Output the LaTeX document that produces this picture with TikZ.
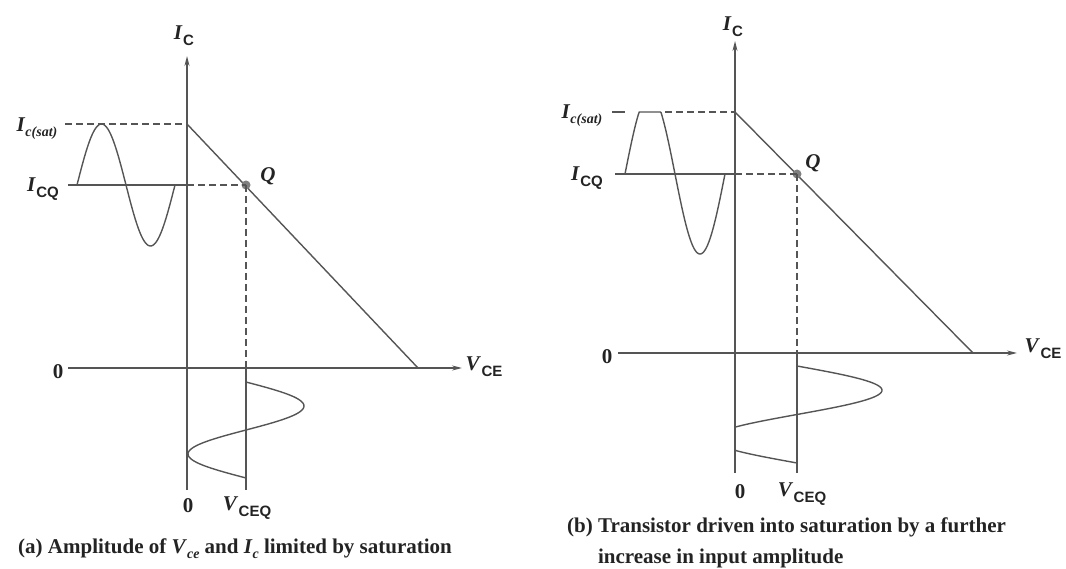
\documentclass[tikz,border=0pt]{standalone}
\usepackage{fontspec}
\setmainfont{Liberation Serif}
\newfontfamily\subsans{Liberation Sans}
\usetikzlibrary{arrows.meta,calc}
\definecolor{linegray}{RGB}{85,85,85}
\definecolor{inkgray}{RGB}{35,35,35}
\tikzset{
  curve/.style={draw=linegray, line width=1.4pt},
  axis/.style={curve, -{Stealth[length=10pt,width=5pt]}},
  guide/.style={curve, dash pattern=on 7pt off 4pt},
  lbl/.style={inner sep=0pt, text=inkgray, font=\fontsize{21}{23}\selectfont\bfseries},
  captxt/.style={inner sep=0pt, anchor=base west, text=inkgray, font=\fontsize{21}{23}\selectfont\bfseries},
  qdot/.style={circle, fill=gray, inner sep=0pt, minimum size=9pt},
}
\newcommand\axsub[2]{\textit{#1}\kern0.5pt\raisebox{-6pt}{\fontsize{15}{15}\selectfont\subsans\bfseries #2}}
\newcommand\itsub[2]{\textit{#1}\raisebox{-5pt}{\fontsize{14}{14}\selectfont\itshape #2}}
\begin{document}
\begin{tikzpicture}[x=1pt,y=-1pt]
\useasboundingbox (0,0) rectangle (1066,569);
% ---------------- panel (a) ----------------
\coordinate (aTop) at (187,56);
\coordinate (aBot) at (187,490);
\coordinate (aL) at (68,368);
\coordinate (aR) at (462,368);
\coordinate (aSat) at (187,124);
\coordinate (aSatL) at (65,124);
\coordinate (aEnd) at (418,368);
\coordinate (aCQL) at (68,185);
\coordinate (aCQ0) at (187,185);
\coordinate (aQax) at (246,368);
\coordinate (aQbot) at (246,490);
\draw[axis] (aBot) -- (aTop);
\draw[axis] (aL) -- (aR);
\draw[guide] (aSatL) -- (aSat);
\draw[curve] (aSat) -- (aEnd);
\draw[curve] (aCQL) -- (aCQ0);
\node[qdot] (aQ) at (246,185) {};
\draw[guide] (aCQ0) -- (aQ.center);
\draw[guide] (aQ.center) -- (aQax);
\draw[curve] (aQax) -- (aQbot);
\draw[curve] plot[domain=0:360,samples=80] ({77+\x/360*98},{185-61*sin(\x)});
\draw[curve] plot[domain=0:360,samples=80] ({246+58*sin(\x)},{382+\x/360*96});
\node[lbl] (aIC) at (184,36) {\axsub{I}{C}};
\node[lbl] (aIsat) at (37,129) {\itsub{I}{c(sat)}};
\node[lbl] (aICQ) at (43,189) {\axsub{I}{CQ}};
\node[lbl] (aQl) at (268,176) {\textit{Q}};
\node[lbl] (aZ) at (58,372) {0};
\node[lbl] (aVCE) at (484,367) {\axsub{V}{CE}};
\node[lbl] (aZb) at (188,506) {0};
\node[lbl] (aVCEQ) at (247,508) {\axsub{V}{CEQ}};
\node[captxt] (aCap) at (18,553) {(a) Amplitude of \itsub{V}{ce} and \itsub{I}{c} limited by saturation};
% ---------------- panel (b) ----------------
\coordinate (bTop) at (735,41);
\coordinate (bBot) at (735,473);
\coordinate (bL) at (618,353);
\coordinate (bR) at (1017,353);
\coordinate (bSat) at (735,112);
\coordinate (bSatL) at (665,112);
\coordinate (bEnd) at (973,353);
\coordinate (bCQL) at (615,174);
\coordinate (bCQ0) at (735,174);
\coordinate (bQax) at (797,353);
\coordinate (bQbot) at (797,473);
\coordinate (bTickL) at (612,112);
\coordinate (bTickR) at (625,112);
\draw[axis] (bBot) -- (bTop);
\draw[axis] (bL) -- (bR);
\draw[guide] (bSatL) -- (bSat);
\draw[curve] (bTickL) -- (bTickR);
\draw[curve] (bSat) -- (bEnd);
\draw[curve] (bCQL) -- (bCQ0);
\node[qdot] (bQ) at (797,174) {};
\draw[guide] (bCQ0) -- (bQ.center);
\draw[guide] (bQ.center) -- (bQax);
\draw[curve] (bQax) -- (bQbot);
\draw[curve] plot[domain=0:360,samples=120] ({625+\x/360*100},{174-min(80*sin(\x),62)});
\draw[curve] plot[domain=0:360,samples=120] ({max(797+85*sin(\x),735)},{366+\x/360*97});
\node[lbl] (bIC) at (733,27) {\axsub{I}{C}};
\node[lbl] (bIsat) at (582,116) {\itsub{I}{c(sat)}};
\node[lbl] (bICQ) at (587,178) {\axsub{I}{CQ}};
\node[lbl] (bQl) at (813,163) {\textit{Q}};
\node[lbl] (bZ) at (607,357) {0};
\node[lbl] (bVCE) at (1043,349) {\axsub{V}{CE}};
\node[lbl] (bZb) at (740,492) {0};
\node[lbl] (bVCEQ) at (802,494) {\axsub{V}{CEQ}};
\node[captxt] (bCap) at (567,532) {(b) Transistor driven into saturation by a further};
\node[captxt] (bCap2) at (567,563) {\hphantom{(b) }increase in input amplitude};
\end{tikzpicture}
\end{document}
